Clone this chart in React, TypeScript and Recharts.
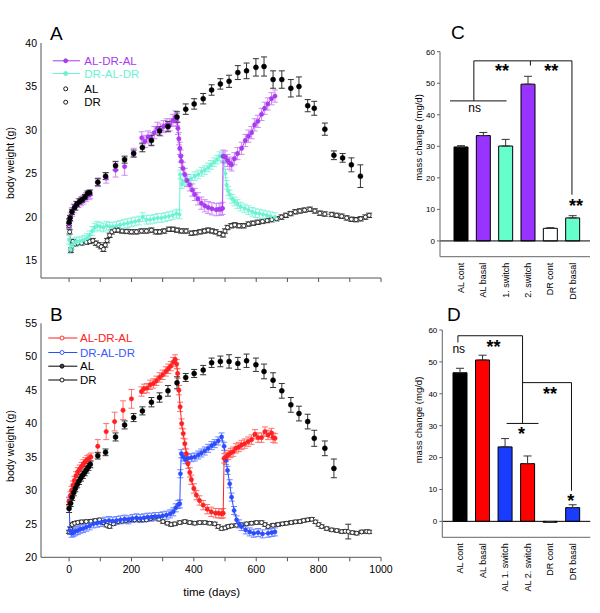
import React from 'react';
import { ComposedChart, BarChart, Bar, Line, XAxis, YAxis, ErrorBar, ReferenceLine, ReferenceDot, Cell } from 'recharts';

const FONT = "'Liberation Sans', Arial, Helvetica, sans-serif";

const PURPLE = '#a93af0';
const PURPLE_ERR = '#cf8af5';
const AQUA = '#6af2d2';
const AQUA_ERR = '#8af5dc';
const RED = '#ff2020';
const RED_ERR = '#ff7070';
const BLUE = '#2a4dff';
const BLUE_ERR = '#6f86ff';

const X_TICKS = [0, 100, 200, 300, 400, 500, 600, 700, 800, 900, 1000];
const A_TICKS = [15, 20, 25, 30, 35, 40];
const B_TICKS = [20, 25, 30, 35, 40, 45, 50, 55];
const BAR_TICKS = [0, 10, 20, 30, 40, 50, 60];

// panel A, [day, body weight g, sem]
const AL_A = [
  [0, 19.4, 0.4], [3, 19.9, 0.3], [9, 20.6, 0.3], [18, 21.1, 0.3], [25, 21.5, 0.3], [34, 21.8, 0.3], [42, 22.0, 0.3],
  [51, 22.3, 0.3], [59, 22.7, 0.3], [66, 22.8, 0.3], [92, 24.0, 0.4], [117, 24.7, 0.4], [149, 25.9, 0.5], [178, 26.6, 0.4],
  [207, 27.3, 0.4], [235, 28.0, 0.5], [264, 28.8, 0.6], [290, 29.9, 0.5], [317, 30.4, 0.6], [346, 31.5, 0.6], [374, 32.4, 0.6],
  [401, 33.0, 0.6], [430, 33.6, 0.6], [457, 34.6, 0.6], [485, 35.3, 0.6], [513, 35.6, 0.7], [541, 36.6, 0.8], [569, 36.8, 0.9],
  [599, 37.2, 1.0], [625, 37.3, 1.1], [654, 35.8, 1.0], [682, 35.8, 1.0], [711, 34.8, 1.0], [737, 35.0, 1.1], [765, 32.8, 0.7],
  [786, 32.5, 0.8], [820, 30.1, 0.7], [849, 27.1, 0.5], [877, 26.8, 0.5], [905, 26.0, 0.8], [934, 24.7, 1.3],
];
const PURPLE_A_EARLY = [
  [0, 19.2], [5, 20.0], [10, 20.6], [15, 21.0], [22, 21.3], [30, 21.6], [38, 21.8], [46, 22.0], [54, 22.3], [62, 22.5], [68, 22.6],
];
const PURPLE_A_SPARSE = [[93, 24.0, 0.5], [119, 24.5, 0.6], [149, 25.4, 0.8], [178, 25.8, 1.0], [207, 27.4, 0.5]];
const PURPLE_A_LATE = [
  [233, 29.1], [243, 28.7], [253, 29.2], [263, 29.0], [273, 29.7], [283, 30.2], [293, 30.0], [303, 30.4], [313, 30.6],
  [323, 30.6], [333, 31.1], [341, 31.5], [345, 31.2], [349, 30.2], [352, 29.0], [355, 27.9], [358, 27.0], [360, 26.4],
  [365, 25.6], [371, 24.9], [378, 24.2], [387, 23.7], [395, 23.1], [403, 22.6], [413, 22.1], [424, 21.6], [435, 21.3],
  [446, 21.1], [458, 20.95], [472, 20.85], [481, 20.9], [487, 20.9], [492, 21.0], [494, 27.0], [500, 26.9], [508, 26.5],
  [515, 26.2], [521, 26.0], [530, 26.7], [540, 27.3], [553, 27.9], [565, 28.8], [575, 29.3], [585, 29.7], [595, 30.6],
  [605, 31.0], [617, 31.8], [627, 32.5], [637, 33.0], [649, 33.6], [660, 33.9],
];
const AQUA_A = [
  [0, 17.4], [4, 16.3], [10, 16.8], [17, 17.1], [25, 17.2], [33, 17.2], [42, 17.3], [50, 17.4], [58, 17.6], [66, 17.9],
  [74, 18.4], [82, 18.8], [90, 19.0], [100, 18.9], [110, 18.8], [120, 19.0], [130, 18.9], [140, 18.9], [152, 19.0],
  [164, 19.1], [176, 19.2], [188, 19.3], [200, 19.4], [212, 19.5], [224, 19.6], [236, 20.0], [248, 19.7], [260, 19.7],
  [272, 19.8], [284, 19.9], [296, 19.9], [308, 20.0], [320, 20.1], [332, 20.2], [344, 20.4], [354, 20.3], [356, 24.9],
  [362, 23.8], [371, 24.1], [380, 24.2], [391, 24.4], [403, 24.7], [414, 24.9], [425, 25.2], [435, 25.4], [446, 25.7],
  [455, 26.0], [465, 26.3], [474, 26.6], [483, 27.0], [491, 26.9], [497, 26.7], [501, 25.0], [505, 23.7], [510, 23.0],
  [515, 22.6], [523, 22.1], [531, 21.8], [540, 21.5], [550, 21.2], [563, 21.0], [575, 20.8], [587, 20.6], [598, 20.45],
  [610, 20.4], [622, 20.3], [634, 20.2], [646, 20.1], [660, 20.0],
];
const DR_A = [
  [0, 19.0], [2, 18.3], [6, 16.2], [12, 17.2], [20, 16.9], [28, 17.0], [40, 17.0], [55, 17.1], [66, 17.2], [76, 17.3],
  [86, 17.0], [95, 16.8], [103, 16.6], [110, 16.3], [116, 16.8], [122, 17.3], [130, 17.9], [137, 18.3], [146, 18.5],
  [157, 18.5], [170, 18.4], [184, 18.35], [200, 18.3], [216, 18.3], [232, 18.4], [248, 18.4], [264, 18.5], [278, 18.3],
  [290, 18.3], [305, 18.4], [320, 18.6], [333, 18.6], [346, 18.5], [360, 18.4], [375, 18.4], [392, 18.15], [405, 18.2],
  [420, 18.3], [434, 18.4], [446, 18.5], [458, 18.4], [470, 18.3], [482, 18.1], [494, 17.95], [500, 18.4], [508, 18.8],
  [520, 19.0], [531, 19.1], [545, 19.0], [560, 19.0], [575, 19.2], [590, 19.3], [605, 19.4], [620, 19.5], [635, 19.6],
  [650, 19.7], [665, 19.8], [681, 20.0], [695, 20.2], [710, 20.4], [725, 20.6], [740, 20.7], [755, 20.8], [772, 20.9],
  [788, 20.7], [804, 20.45], [820, 20.35], [842, 20.3], [858, 20.2], [874, 20.1], [890, 19.9], [905, 19.75], [920, 19.7],
  [935, 19.8], [950, 20.0], [962, 20.2],
];

// panel B
const AL_B = [
  [0, 27.3, 0.6], [5, 28.1, 0.5], [10, 29.0, 0.5], [15, 29.7, 0.5], [20, 30.3, 0.5], [26, 30.9, 0.5], [32, 31.4, 0.5],
  [38, 31.9, 0.5], [44, 32.3, 0.5], [50, 32.7, 0.5], [56, 33.1, 0.5], [62, 33.5, 0.5], [68, 33.9, 0.5], [92, 35.2, 0.5],
  [117, 35.7, 0.5], [149, 38.0, 0.6], [178, 39.8, 0.6], [207, 40.9, 0.6], [235, 41.9, 0.6], [264, 43.2, 0.7], [290, 43.9, 0.7],
  [317, 44.9, 0.8], [346, 46.1, 0.9], [374, 46.9, 0.6], [401, 47.5, 0.6], [430, 48.0, 0.7], [457, 49.1, 0.7], [485, 49.3, 0.8],
  [513, 49.3, 1.0], [541, 49.0, 0.9], [569, 49.4, 1.0], [599, 48.8, 1.0], [625, 47.8, 1.1], [654, 46.5, 1.1], [682, 44.9, 1.1],
  [711, 42.8, 1.1], [737, 41.5, 1.1], [765, 40.3, 1.1], [786, 37.8, 1.2], [820, 36.3, 1.1], [849, 33.3, 1.4],
];
const RED_B_EARLY = [
  [0, 28.3], [4, 29.2], [8, 30.0], [12, 30.8], [17, 31.5], [22, 32.2], [28, 32.8], [34, 33.2], [40, 33.6], [46, 34.0],
  [52, 34.3], [58, 34.6], [64, 34.8], [70, 35.0],
];
const RED_B_SPARSE = [[92, 36.6, 1.0], [119, 38.8, 1.2], [146, 40.3, 1.4], [173, 42.0, 1.4], [200, 43.7, 1.4]];
const RED_B_LATE = [
  [232, 44.8], [240, 45.2], [250, 45.3], [260, 45.8], [270, 46.0], [280, 46.4], [290, 46.9], [300, 47.3], [310, 47.8],
  [318, 48.2], [326, 48.6], [334, 49.2], [340, 49.6], [345, 48.9], [348, 47.5], [352, 45.0], [356, 42.5], [361, 40.0],
  [366, 38.5], [371, 37.0], [376, 35.5], [381, 34.0], [387, 32.7], [392, 31.6], [400, 30.3], [408, 29.3], [418, 28.5],
  [430, 27.8], [443, 27.2], [456, 26.8], [470, 26.6], [480, 26.6], [489, 26.5], [494, 26.6], [497, 34.8], [503, 35.0],
  [510, 35.3], [518, 35.6], [526, 35.8], [535, 36.3], [544, 36.5], [553, 36.8], [563, 37.0], [574, 37.3], [585, 37.6],
  [596, 38.4], [606, 37.9], [617, 37.9], [628, 38.8], [638, 38.3], [649, 38.6], [654, 37.9], [660, 37.8],
];
const BLUE_B = [
  [0, 28.4], [3, 24.0], [8, 23.6], [14, 23.7], [20, 23.9], [28, 24.0], [36, 24.2], [45, 24.3], [55, 24.5], [66, 24.7],
  [78, 25.0], [90, 25.1], [102, 25.2], [115, 25.4], [128, 25.5], [140, 25.4], [152, 25.5], [165, 25.6], [178, 25.7],
  [190, 25.6], [203, 25.8], [216, 25.9], [228, 25.8], [240, 25.9], [252, 26.0], [264, 26.0], [276, 26.1], [288, 26.1],
  [300, 26.2], [312, 26.3], [324, 26.5], [334, 26.8], [342, 27.4], [350, 27.9], [355, 28.0], [357, 32.5], [360, 35.5],
  [366, 35.0], [373, 34.6], [381, 34.8], [392, 34.9], [403, 35.0], [414, 35.3], [424, 35.6], [435, 35.9], [446, 36.3],
  [457, 36.7], [467, 37.0], [478, 37.4], [489, 38.0], [497, 36.6], [503, 34.5], [508, 33.0], [515, 31.0], [521, 29.0],
  [529, 27.0], [537, 25.6], [545, 25.0], [553, 24.6], [566, 24.1], [579, 23.8], [592, 23.6], [606, 23.7], [620, 23.5],
  [638, 23.6], [650, 23.7], [660, 23.8],
];
const DR_B = [
  [0, 23.8], [5, 24.2], [10, 24.9], [18, 25.1], [28, 25.2], [40, 25.3], [55, 25.35], [70, 25.4], [84, 25.5], [98, 25.6],
  [110, 25.2], [120, 24.8], [130, 24.6], [142, 25.0], [157, 25.35], [170, 25.4], [182, 25.5], [194, 25.6], [210, 25.6],
  [225, 25.6], [238, 25.6], [248, 25.6], [262, 25.8], [274, 26.0], [288, 25.7], [301, 25.35], [315, 25.1], [327, 24.9],
  [339, 25.0], [355, 25.2], [371, 25.35], [387, 25.2], [403, 25.1], [419, 25.2], [435, 25.2], [451, 25.1], [467, 25.0],
  [478, 24.6], [489, 24.3], [500, 24.4], [510, 24.6], [521, 24.7], [537, 24.8], [553, 24.85], [569, 25.0], [585, 25.1],
  [601, 25.2], [617, 25.2], [628, 24.9], [638, 24.6], [654, 24.8], [670, 24.9], [684, 25.0], [697, 25.1], [712, 25.2],
  [726, 25.3], [740, 25.35], [752, 25.5], [765, 25.6], [778, 25.7], [790, 25.3], [800, 24.9], [810, 24.6], [826, 24.3],
  [842, 24.1], [858, 24.0], [874, 23.85], [885, 23.9], [895, 23.85, 1.1], [908, 23.7], [922, 23.6], [938, 23.8],
  [954, 23.85], [962, 23.8],
];

// panel C / D bars, mass change mg/d
const C_LABELS = ['AL cont', 'AL basal', '1. switch', '2. switch', 'DR cont', 'DR basal'];
const C_VALUES = [29.8, 33.4, 30.1, 49.7, 4.0, 7.3];
const C_ERR = [0.4, 1.0, 2.1, 2.5, 0.2, 0.7];
const C_COLORS = ['#000000', '#9933ff', '#66ffcc', '#9933ff', '#ffffff', '#66ffcc'];

const D_LABELS = ['AL cont', 'AL basal', 'AL 1. switch', 'AL 2. switch', 'DR cont', 'DR basal'];
const D_VALUES = [46.6, 50.6, 23.35, 18.1, -0.3, 4.3];
const D_ERR = [1.4, 1.5, 2.6, 2.4, 0.2, 0.9];
const D_COLORS = ['#000000', '#ff0000', '#1a3cff', '#ff0000', '#ffffff', '#1a3cff'];

// significance brackets, in (bar index, mg/d)
const C_BRACKETS = [
  [0, 44.4, 2.11, 44.4], [0.89, 44.4, 0.89, 57.1], [0.89, 57.1, 4.55, 57.1], [3.0, 57.1, 3.0, 55.6],
  [4.55, 57.1, 4.55, 14.65], [3.95, 14.65, 5.13, 14.65],
];
const C_MARKS: [number, number, string][] = [[1.94, 54.0, '**'], [3.78, 54.0, '**'], [4.7, 11.3, '**'], [0.92, 42.2, 'ns']];
const D_BRACKETS = [
  [-0.27, 56.1, 0.9, 56.1], [0.33, 56.1, 0.33, 58.2], [0.33, 58.2, 2.72, 58.2], [2.72, 58.2, 2.72, 30.7],
  [2.13, 30.7, 3.31, 30.7], [2.72, 43.5, 4.53, 43.5], [4.53, 43.5, 4.53, 9.6], [3.95, 9.6, 5.12, 9.6],
];
const D_MARKS: [number, number, string][] = [[1.65, 54.8, '**'], [3.74, 39.9, '**'], [2.68, 27.6, '*'], [4.5, 6.6, '*'], [0.36, 54.0, 'ns']];

const rows = (pts: number[][], err: number) => pts.map(p => ({ d: p[0], v: p[1], e: p.length > 2 ? p[2] : err }));

interface SeriesDef {
  pts: number[][];
  err: number;
  color: string;
  errColor: string;
  line: boolean;
  r: number;
  open?: boolean;
  lw?: number;
}

const seriesA: SeriesDef[] = [
  { pts: DR_A, err: 0.25, color: '#222', errColor: '#333', line: true, r: 2, open: true, lw: 0.6 },
  { pts: AQUA_A, err: 0.5, color: AQUA, errColor: AQUA_ERR, line: true, r: 1.8 },
  { pts: PURPLE_A_EARLY, err: 0.5, color: PURPLE, errColor: PURPLE_ERR, line: true, r: 2.2 },
  { pts: PURPLE_A_SPARSE, err: 0.6, color: PURPLE, errColor: PURPLE_ERR, line: false, r: 2.2 },
  { pts: PURPLE_A_LATE, err: 0.7, color: PURPLE, errColor: PURPLE_ERR, line: true, r: 2.2 },
  { pts: AL_A, err: 0.5, color: '#000', errColor: '#333', line: false, r: 2.5 },
];

const seriesB: SeriesDef[] = [
  { pts: DR_B, err: 0.25, color: '#222', errColor: '#333', line: true, r: 2, open: true, lw: 0.6 },
  { pts: BLUE_B, err: 0.6, color: BLUE, errColor: BLUE_ERR, line: true, r: 2.1 },
  { pts: RED_B_EARLY, err: 0.6, color: RED, errColor: RED_ERR, line: true, r: 2.2 },
  { pts: RED_B_SPARSE, err: 1.0, color: RED, errColor: RED_ERR, line: false, r: 2.2 },
  { pts: RED_B_LATE, err: 0.7, color: RED, errColor: RED_ERR, line: true, r: 2.2 },
  { pts: AL_B, err: 0.5, color: '#000', errColor: '#333', line: false, r: 2.5 },
];

const tickStyle = { fontSize: 10.5, fill: '#000', fontFamily: FONT };

const WeightPanel = ({ series, yDomain, yTicks, height, margin, xHeight, xLabels }: any) => (
  <ComposedChart width={400} height={height} margin={margin}>
    <XAxis dataKey="d" type="number" domain={[-90, 1000]} ticks={X_TICKS} allowDataOverflow height={xHeight}
      stroke="#555" tickSize={4} tickMargin={4} tick={tickStyle}
      tickFormatter={(v: number) => (xLabels && v % 200 === 0 ? String(v) : '')} />
    <XAxis xAxisId="top" orientation="top" type="number" domain={[0, 1]} height={0} tick={false} tickLine={false} stroke="#888" />
    <YAxis type="number" domain={yDomain} ticks={yTicks} allowDataOverflow width={30} stroke="#555"
      tickLine={false} tickSize={4} tickMargin={0} tick={tickStyle} />
    <YAxis yAxisId="r" orientation="right" type="number" domain={[0, 1]} width={0} tick={false} tickLine={false} stroke="#888" />
    {series.map((s: SeriesDef, i: number) => (
      <Line key={i} data={rows(s.pts, s.err)} dataKey="v" isAnimationActive={false} activeDot={false}
        stroke={s.line ? s.color : 'none'} strokeWidth={s.lw ?? 1}
        dot={{ r: s.r, fill: s.open ? '#fff' : s.color, stroke: s.color, strokeWidth: s.open ? 0.9 : 0.5 }}>
        <ErrorBar dataKey="e" direction="y" width={3} stroke={s.errColor} strokeWidth={1} />
      </Line>
    ))}
  </ComposedChart>
);

const RotTick = (props: any) => {
  const { x, y, payload } = props;
  const ty = y + 6;
  return (
    <text x={x} y={ty} transform={`rotate(-90 ${x} ${ty})`} textAnchor="end" dominantBaseline="central"
      fontSize={9} fill="#000" fontFamily={FONT}>
      {payload.value}
    </text>
  );
};

const MassPanel = ({ labels, values, errs, colors, brackets, marks, height, margin, xHeight }: any) => {
  const data = labels.map((name: string, i: number) => ({ name, v: values[i], eb: [0, errs[i]] }));
  return (
    <BarChart width={200} height={height} data={data} margin={margin} barSize={14}>
      <XAxis dataKey="name" height={xHeight} interval={0} tickLine={false} tickSize={0} tickMargin={0}
        tick={<RotTick />} stroke="#666" padding={margin.pad} />
      <XAxis xAxisId="n" type="number" domain={[-0.5, 5.5]} allowDataOverflow hide padding={margin.pad} />
      <XAxis xAxisId="top" orientation="top" type="number" domain={[0, 1]} height={0} tick={false} tickLine={false} stroke="#666" />
      <YAxis type="number" domain={[-5, 60]} ticks={BAR_TICKS} allowDataOverflow width={30} stroke="#666"
        tickSize={3} tickMargin={2} tick={{ fontSize: 8, fill: '#000', fontFamily: FONT }} />
      <YAxis yAxisId="r" orientation="right" type="number" domain={[0, 1]} width={0} tick={false} tickLine={false} stroke="#666" />
      <ReferenceLine y={0} stroke="#000" strokeWidth={1} />
      <Bar dataKey="v" stroke="#000" strokeWidth={1} isAnimationActive={false}>
        {data.map((_: any, i: number) => <Cell key={i} fill={colors[i]} />)}
        <ErrorBar dataKey="eb" width={4} stroke="#333" strokeWidth={1} />
      </Bar>
      {brackets.map((b: number[], i: number) => (
        <ReferenceLine key={'b' + i} xAxisId="n" segment={[{ x: b[0], y: b[1] }, { x: b[2], y: b[3] }]} stroke="#111" strokeWidth={1} />
      ))}
      {marks.map((m: [number, number, string], i: number) => (
        <ReferenceDot key={'m' + i} xAxisId="n" x={m[0]} y={m[1]} r={0} fill="none" stroke="none"
          label={{ value: m[2], position: 'center', fill: '#000', fontFamily: FONT,
            fontSize: m[2] === 'ns' ? 12 : 18, fontWeight: m[2] === 'ns' ? 'normal' : 'bold' }} />
      ))}
    </BarChart>
  );
};

const LEGEND_A = [
  { y: 60.8, label: 'AL-DR-AL', color: PURPLE, text: PURPLE, line: true, fill: PURPLE },
  { y: 73.5, label: 'DR-AL-DR', color: AQUA, text: AQUA, line: true, fill: AQUA },
  { y: 88.8, label: 'AL', color: '#000', text: '#000', line: false, fill: '#fff' },
  { y: 102.2, label: 'DR', color: '#000', text: '#000', line: false, fill: '#fff' },
];
const LEGEND_B = [
  { y: 338, label: 'AL-DR-AL', color: RED, text: RED, line: true, fill: '#fff' },
  { y: 352.5, label: 'DR-AL-DR', color: BLUE, text: '#3a5aff', line: true, fill: '#fff' },
  { y: 366.2, label: 'AL', color: '#000', text: '#000', line: true, fill: '#444' },
  { y: 380, label: 'DR', color: '#000', text: '#000', line: true, fill: '#fff' },
];

const LegendRows = ({ items, x0, x1, cx, tx }: any) => (
  <g>
    {items.map((it: any, i: number) => (
      <g key={i}>
        {it.line && <line x1={x0} x2={x1} y1={it.y} y2={it.y} stroke={it.color} strokeWidth={1} />}
        <circle cx={cx} cy={it.y} r={2} fill={it.fill} stroke={it.color} strokeWidth={0.9} />
        <text x={tx} y={it.y} dominantBaseline="central" fontSize={11.5} fill={it.text}>{it.label}</text>
      </g>
    ))}
  </g>
);

const VLabel = ({ x, y, children, size }: any) => (
  <text x={x} y={y} transform={`rotate(-90 ${x} ${y})`} textAnchor="middle" dominantBaseline="central" fontSize={size}>
    {children}
  </text>
);

export default function App() {
  return (
    <div style={{ position: 'absolute', left: 0, top: 0, width: 600, height: 613, background: '#fff', fontFamily: FONT, overflow: 'hidden' }}>
      <div style={{ position: 'absolute', left: 0, top: 0 }}>
        <WeightPanel series={seriesA} yDomain={[13, 40]} yTicks={A_TICKS} height={300}
          margin={{ top: 43, right: 19, bottom: 2, left: 11 }} xHeight={20} xLabels={false} />
      </div>
      <div style={{ position: 'absolute', left: 0, top: 300 }}>
        <WeightPanel series={seriesB} yDomain={[20, 55]} yTicks={B_TICKS} height={313}
          margin={{ top: 23.3, right: 19, bottom: 10.7, left: 11 }} xHeight={45} xLabels={true} />
      </div>
      <div style={{ position: 'absolute', left: 400, top: 0 }}>
        <MassPanel labels={C_LABELS} values={C_VALUES} errs={C_ERR} colors={C_COLORS} brackets={C_BRACKETS} marks={C_MARKS}
          height={300} xHeight={43}
          margin={{ top: 51.7, right: 10, bottom: 0.3, left: 10, pad: { left: 10, right: 6 } }} />
      </div>
      <div style={{ position: 'absolute', left: 400, top: 300 }}>
        <MassPanel labels={D_LABELS} values={D_VALUES} errs={D_ERR} colors={D_COLORS} brackets={D_BRACKETS} marks={D_MARKS}
          height={313} xHeight={70}
          margin={{ top: 30, right: 9.7, bottom: 5.7, left: 12.3, pad: { left: 6.7, right: 6.1 } }} />
      </div>
      <svg width={600} height={613} style={{ position: 'absolute', left: 0, top: 0, pointerEvents: 'none' }} fontFamily={FONT}>
        <text x={50} y={40} fontSize={19}>A</text>
        <text x={50} y={320.7} fontSize={19}>B</text>
        <text x={451} y={39} fontSize={19}>C</text>
        <text x={447} y={321} fontSize={19}>D</text>
        <LegendRows items={LEGEND_A} x0={52.7} x1={80} cx={65.7} tx={84.3} />
        <LegendRows items={LEGEND_B} x0={48.3} x1={77.3} cx={62} tx={80} />
        <VLabel x={10} y={163} size={10.5}>body weight (g)</VLabel>
        <VLabel x={10} y={446} size={10.5}>body weight (g)</VLabel>
        <VLabel x={418} y={137.5} size={9.5}>mass change (mg/d)</VLabel>
        <VLabel x={418.3} y={420} size={9.5}>mass change (mg/d)</VLabel>
        <text x={211.7} y={591.7} textAnchor="middle" dominantBaseline="central" fontSize={11.5}>time (days)</text>
      </svg>
    </div>
  );
}
